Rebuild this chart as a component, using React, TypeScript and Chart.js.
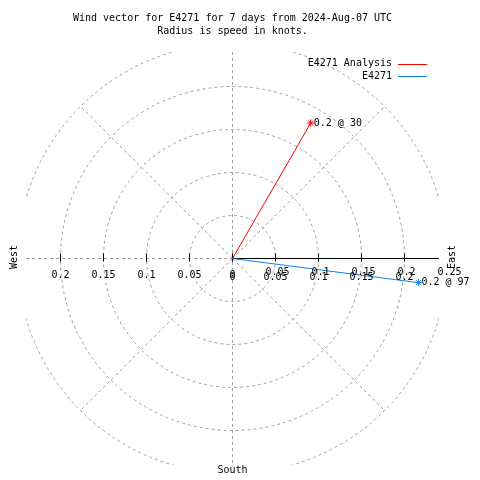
import React, { useEffect, useRef } from 'react';
import { Chart, registerables } from 'chart.js';

Chart.register(...registerables);

// ---- data ----
const TITLE_LINES = ['Wind vector for E4271 for 7 days from 2024-Aug-07 UTC', 'Radius is speed in knots.'];
const SERIES_NAMES = ['E4271 Analysis', 'E4271'];
const SPEEDS = [0.182, 0.218];
const DIRECTIONS = [30, 97.4];
const SERIES_COLORS = ['#ff0000', '#0a7ff0'];
const RINGS = [0.05, 0.1, 0.15, 0.2, 0.25];
const X_TICKS_LEFT = [0.2, 0.15, 0.1, 0.05, 0];
const X_TICKS_RIGHT = [0, 0.05, 0.1, 0.15, 0.2];
const R_TICKS = [0.05, 0.1, 0.15, 0.2, 0.25];
const SPOKES = [45, 135, 225, 315];
const COMPASS = ['West', 'East', 'South'];

const AXIS_LIMIT = 0.24012;
const FONT = '10px "DejaVu Sans Mono", "Liberation Mono", monospace';
const GRID_COLOR = '#a0a0a0';

const rad = (d: number) => (d * Math.PI) / 180;

const polarPlugin = {
  id: 'polarGrid',
  beforeDatasetsDraw(chart: any) {
    const { ctx, chartArea: a, scales } = chart;
    const xs = scales.x;
    const ys = scales.y;
    const cx = xs.getPixelForValue(0);
    const cy = ys.getPixelForValue(0);
    const pr = (r: number) => xs.getPixelForValue(r) - cx;

    ctx.save();
    ctx.beginPath();
    ctx.rect(a.left, a.top, a.right - a.left, a.bottom - a.top);
    ctx.clip();
    ctx.strokeStyle = GRID_COLOR;
    ctx.lineWidth = 1;
    ctx.setLineDash([3, 3]);
    RINGS.forEach((r) => {
      ctx.beginPath();
      ctx.arc(cx, cy, pr(r), 0, Math.PI * 2);
      ctx.stroke();
    });
    const rmax = RINGS[RINGS.length - 1];
    SPOKES.forEach((d) => {
      const t = rad(d);
      ctx.beginPath();
      ctx.moveTo(cx, cy);
      ctx.lineTo(xs.getPixelForValue(rmax * Math.sin(t)), ys.getPixelForValue(rmax * Math.cos(t)));
      ctx.stroke();
    });
    ctx.beginPath();
    ctx.moveTo(cx, a.top);
    ctx.lineTo(cx, a.bottom);
    ctx.stroke();
    ctx.beginPath();
    ctx.moveTo(a.left, cy);
    ctx.lineTo(cx, cy);
    ctx.stroke();
    ctx.restore();

    ctx.save();
    ctx.strokeStyle = '#000';
    ctx.lineWidth = 1;
    ctx.beginPath();
    ctx.moveTo(cx, cy);
    ctx.lineTo(a.right, cy);
    ctx.stroke();
    [...X_TICKS_LEFT.map((v) => -v), ...X_TICKS_RIGHT].forEach((v) => {
      const x = xs.getPixelForValue(v);
      ctx.beginPath();
      ctx.moveTo(x, cy - 5);
      ctx.lineTo(x, cy + 3);
      ctx.stroke();
    });
    ctx.restore();
  },
  afterDraw(chart: any) {
    const { ctx, chartArea: a, scales } = chart;
    const xs = scales.x;
    const ys = scales.y;
    const cx = xs.getPixelForValue(0);
    const cy = ys.getPixelForValue(0);
    ctx.save();
    ctx.font = FONT;
    ctx.fillStyle = '#000';
    ctx.textBaseline = 'middle';

    // axis tick labels
    ctx.textAlign = 'center';
    X_TICKS_LEFT.forEach((v) => ctx.fillText(String(v), xs.getPixelForValue(-v), cy + 17));
    X_TICKS_RIGHT.forEach((v) => ctx.fillText(String(v), xs.getPixelForValue(v), cy + 18.5));
    R_TICKS.forEach((v) => ctx.fillText(String(v), xs.getPixelForValue(v) + 2, cy + 13.5));

    // compass labels
    const drawRot = (t: string, x: number, y: number) => {
      ctx.save();
      ctx.translate(x, y);
      ctx.rotate(-Math.PI / 2);
      ctx.textAlign = 'center';
      ctx.fillText(t, 0, 0);
      ctx.restore();
    };
    drawRot(COMPASS[0], a.left - 12, cy - 1.5);
    drawRot(COMPASS[1], a.right + 13, cy - 1.5);
    ctx.textAlign = 'center';
    ctx.fillText(COMPASS[2], cx, a.bottom + 5.5);

    // vector end labels
    ctx.textAlign = 'left';
    SPEEDS.forEach((s, i) => {
      const el = chart.getDatasetMeta(i).data[1];
      if (!el) return;
      ctx.fillText(`${s.toFixed(1)} @ ${Math.floor(DIRECTIONS[i])}`, el.x + 3, el.y);
    });

    // legend
    SERIES_NAMES.forEach((name, i) => {
      const y = a.top + 11.5 + i * 12.5;
      ctx.textAlign = 'right';
      ctx.fillStyle = '#000';
      ctx.fillText(name, a.right - 47, y);
      ctx.strokeStyle = SERIES_COLORS[i];
      ctx.lineWidth = 1;
      ctx.beginPath();
      ctx.moveTo(a.right - 41, Math.round(y) + 0.5);
      ctx.lineTo(a.right - 12, Math.round(y) + 0.5);
      ctx.stroke();
    });
    ctx.restore();
  },
};

export default function App() {
  const ref = useRef<HTMLCanvasElement>(null);
  useEffect(() => {
    const canvas = ref.current;
    if (!canvas) return;
    const datasets = SERIES_NAMES.map((name, i) => {
      const t = rad(DIRECTIONS[i]);
      return {
        label: name,
        data: [
          { x: 0, y: 0 },
          { x: SPEEDS[i] * Math.sin(t), y: SPEEDS[i] * Math.cos(t) },
        ],
        showLine: true,
        borderColor: SERIES_COLORS[i],
        backgroundColor: SERIES_COLORS[i],
        borderWidth: 1,
        pointRadius: [0, 3.5],
        pointStyle: 'star',
        pointBorderColor: SERIES_COLORS[i],
        pointBorderWidth: 1,
        clip: false as any,
      };
    });
    const chart = new Chart(canvas, {
      type: 'scatter',
      data: { datasets },
      options: {
        animation: false,
        responsive: false,
        devicePixelRatio: 1,
        events: [],
        layout: { padding: { left: 26, right: 41, top: 0, bottom: 15 } },
        scales: {
          x: { type: 'linear', min: -AXIS_LIMIT, max: AXIS_LIMIT, display: false },
          y: { type: 'linear', min: -AXIS_LIMIT, max: AXIS_LIMIT, display: false },
        },
        plugins: {
          legend: { display: false },
          tooltip: { enabled: false },
          title: {
            display: true,
            text: TITLE_LINES,
            color: '#000',
            font: { family: '"DejaVu Sans Mono", "Liberation Mono", monospace', size: 10, weight: 'normal', lineHeight: 1.3 },
            padding: { top: 12, bottom: 14 },
          },
        },
      },
      plugins: [polarPlugin],
    } as any);
    return () => chart.destroy();
  }, []);
  return (
    <div style={{ position: 'absolute', left: 0, top: 0, width: 480, height: 480, background: '#fff' }}>
      <canvas ref={ref} width={480} height={480} style={{ width: 480, height: 480, display: 'block' }} />
    </div>
  );
}
